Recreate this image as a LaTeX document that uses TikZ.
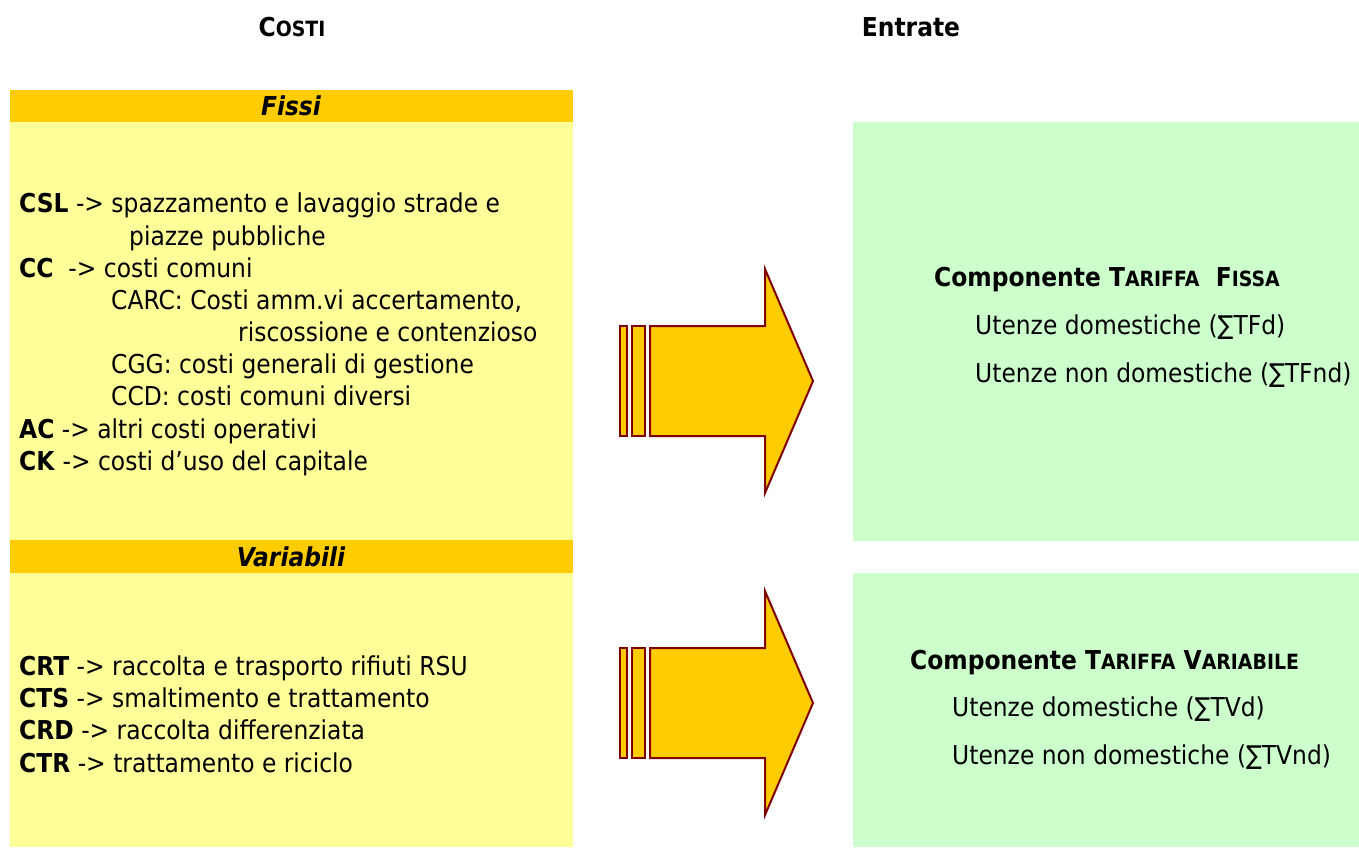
\documentclass[tikz,border=0pt]{standalone}
\usepackage{fontspec}
\setmainfont{DejaVu Sans}[FakeStretch=0.9]
\definecolor{arancio}{HTML}{FFCC00}
\definecolor{giallo}{HTML}{FFFF99}
\definecolor{verde}{HTML}{CCFFCC}
\definecolor{bordeaux}{HTML}{800000}
\newcommand{\maiusc}[1]{{\fontsize{21}{23}\selectfont #1}}
\begin{document}
\begin{tikzpicture}[x=1pt,y=-1pt,
  every node/.style={font=\fontsize{26}{30}\selectfont},
  riga/.style={anchor=west,inner sep=0pt,text height=21pt,text depth=4pt},
  freccia/.style={draw=bordeaux,fill=arancio,line width=2pt}]
\useasboundingbox (0,0) rectangle (1359,847);
% riquadri
\fill[arancio] (10,90) rectangle (573,122);
\fill[giallo] (10,122) rectangle (573,540);
\fill[arancio] (10,540) rectangle (573,573);
\fill[giallo] (10,573) rectangle (573,847);
\fill[verde] (853,122) rectangle (1359,541);
\fill[verde] (853,573) rectangle (1359,847);
% titoli
\node[font=\fontsize{26}{28}\selectfont\bfseries] (costi) at (292,27) {C\maiusc{OSTI}};
\node[font=\fontsize{26}{28}\selectfont\bfseries] (entrate) at (911,27) {Entrate};
\node[font=\fontsize{26}{28}\selectfont\bfseries\itshape] (fissi) at (291,106) {Fissi};
\node[font=\fontsize{26}{28}\selectfont\bfseries\itshape] (variabili) at (291,557) {Variabili};
% frecce
\foreach \c in {381,703} {
  \draw[freccia] (620,\c-55) rectangle (627,\c+55);
  \draw[freccia] (632,\c-55) rectangle (645,\c+55);
  \draw[freccia] (650,\c-55) -- (765,\c-55) -- (765,\c-112) -- (813,\c)
    -- (765,\c+112) -- (765,\c+55) -- (650,\c+55) -- cycle;
}
% costi fissi
\node[riga] (csl) at (19,204) {\textbf{CSL} -> spazzamento e lavaggio strade e};
\node[riga] (piazze) at (129,237) {piazze pubbliche};
\node[riga] (cc) at (19,269) {\textbf{CC}\ \ -> costi comuni};
\node[riga] (carc) at (111,301) {CARC: Costi amm.vi accertamento,};
\node[riga] (risc) at (238,333) {riscossione e contenzioso};
\node[riga] (cgg) at (111,365) {CGG: costi generali di gestione};
\node[riga] (ccd) at (111,397) {CCD: costi comuni diversi};
\node[riga] (ac) at (19,430) {\textbf{AC} -> altri costi operativi};
\node[riga] (ck) at (19,462) {\textbf{CK} -> costi d’uso del capitale};
% costi variabili
\node[riga] (crt) at (19,667) {\textbf{CRT} -> raccolta e trasporto rifiuti RSU};
\node[riga] (cts) at (19,699) {\textbf{CTS} -> smaltimento e trattamento};
\node[riga] (crd) at (19,731) {\textbf{CRD} -> raccolta differenziata};
\node[riga] (ctr) at (19,764) {\textbf{CTR} -> trattamento e riciclo};
% entrate
\node[riga] (tf) at (934,278) {\textbf{Componente T\maiusc{ARIFFA}\ \ F\maiusc{ISSA}}};
\node[riga] (tfd) at (975,326) {Utenze domestiche (∑TFd)};
\node[riga] (tfnd) at (975,374) {Utenze non domestiche (∑TFnd)};
\node[riga] (tv) at (910,661) {\textbf{Componente T\maiusc{ARIFFA} V\maiusc{ARIABILE}}};
\node[riga] (tvd) at (952,708) {Utenze domestiche (∑TVd)};
\node[riga] (tvnd) at (952,756) {Utenze non domestiche (∑TVnd)};
\end{tikzpicture}
\end{document}
